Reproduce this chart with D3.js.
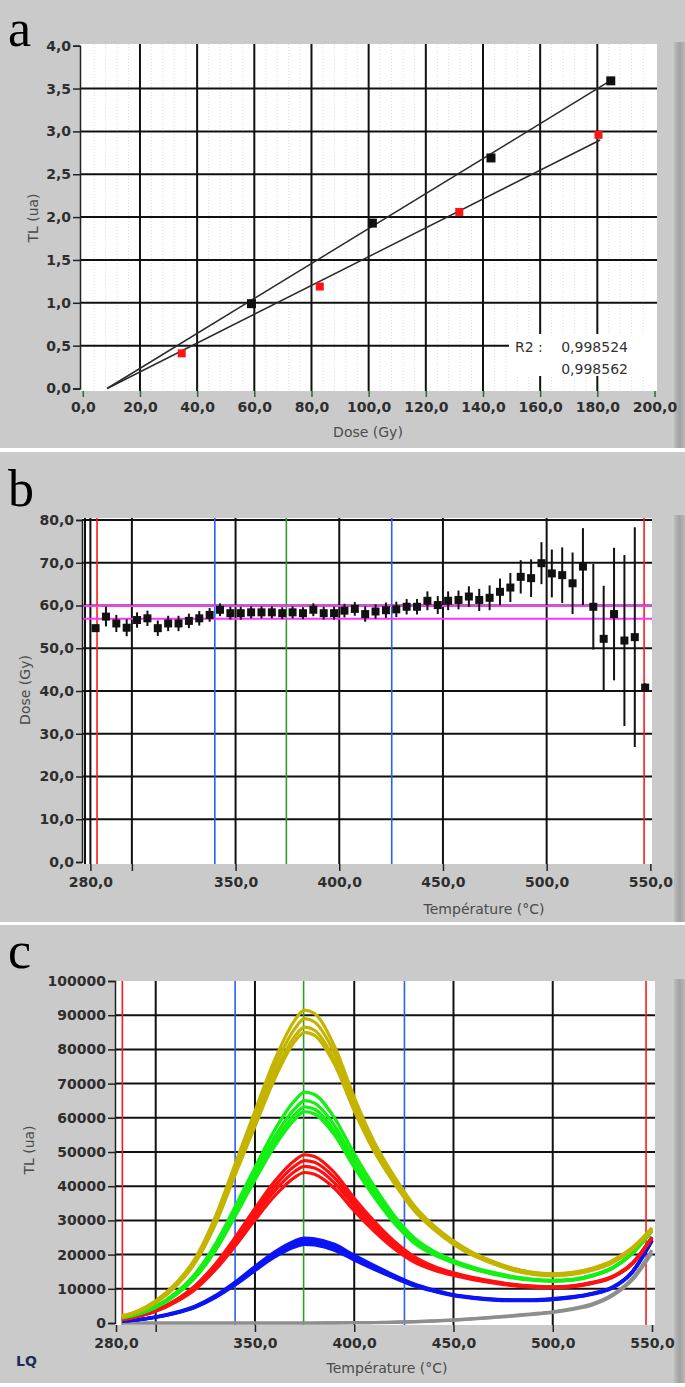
<!DOCTYPE html>
<html>
<head>
<meta charset="utf-8">
<script src="https://cdn.jsdelivr.net/npm/d3@7"></script>
<style>
  body { margin: 0; background: #fff; }
  .tick text { font-family: "DejaVu Sans", sans-serif; font-weight: bold; font-size: 14px; fill: #2e2e2e; }
  .ttl { font-family: "DejaVu Sans", sans-serif; font-size: 14px; fill: #4a4a4a; }
  .letter { font-family: "Liberation Serif", serif; font-size: 52px; fill: #000; }
</style>
</head>
<body>
<script>
//////////////////////////////////////////////////////////////////////////////
// data

// panel a : dose response
var aDoseTicks = [0, 20, 40, 60, 80, 100, 120, 140, 160, 180, 200];
var aTLTicks = [0, 0.5, 1, 1.5, 2, 2.5, 3, 3.5, 4];
var blackDose = [59, 101.3, 142.8, 184.7];
var blackTL = [0.99, 1.93, 2.69, 3.59];
var redDose = [34.6, 82.9, 131.7, 180.4];
var redTL = [0.41, 1.19, 2.06, 2.96];
var blackFitDose = [8.5, 185];
var blackFitTL = [0, 3.6];
var redFitDose = [8.5, 181];
var redFitTL = [0, 2.9];
var r2Values = ["0,998524", "0,998562"];

// panel b : plateau
var bTempTicks = [280, 300, 350, 400, 450, 500, 550];
var bDoseTicks = [0, 10, 20, 30, 40, 50, 60, 70, 80];
var bTemp = [282.5, 287.5, 292.5, 297.5, 302.5, 307.5, 312.5, 317.5, 322.5, 327.5,
             332.5, 337.5, 342.5, 347.5, 352.5, 357.5, 362.5, 367.5, 372.5, 377.5,
             382.5, 387.5, 392.5, 397.5, 402.5, 407.5, 412.5, 417.5, 422.5, 427.5,
             432.5, 437.5, 442.5, 447.5, 452.5, 457.5, 462.5, 467.5, 472.5, 477.5,
             482.5, 487.5, 492.5, 497.5, 502.5, 507.5, 512.5, 517.5, 522.5, 527.5,
             532.5, 537.5, 542.5, 547.5];
var bDose = [54.7, 57.4, 55.8, 54.8, 56.6, 57.0, 54.7, 55.8, 55.8, 56.4,
             57.0, 57.8, 59.0, 58.2, 58.2, 58.4, 58.4, 58.4, 58.2, 58.4,
             58.2, 59.0, 58.2, 58.2, 58.8, 59.2, 58.0, 58.6, 58.9, 59.1,
             59.7, 59.7, 61.1, 60.1, 61.1, 61.3, 62.1, 61.3, 61.8, 63.2,
             64.2, 66.7, 66.4, 69.9, 67.5, 67.1, 65.2, 69.1, 59.7, 52.2,
             58.0, 51.8, 52.6, 40.8];
var bErr = [0.8, 2.3, 2.0, 2.0, 1.8, 1.8, 1.8, 1.8, 1.8, 1.7,
            1.7, 1.6, 1.5, 1.5, 1.5, 1.4, 1.4, 1.4, 1.4, 1.4,
            1.4, 1.5, 1.5, 1.5, 1.6, 1.6, 1.8, 1.7, 1.8, 1.8,
            1.8, 1.8, 2.2, 2.1, 2.2, 2.2, 2.4, 2.6, 2.9, 3.1,
            3.4, 3.9, 4.4, 4.9, 5.6, 6.5, 7.2, 9.0, 10.0, 12.4,
            15.5, 20.0, 25.7, 1.0];
var bBand = [56.9, 59.9];

// cursors shared by b and c
var redCursors = [283.2, 547];
var blueCursors = [340, 425.3];
var greenCursors = [374.5];

// panel c : glow curves
var cTempTicks = [280, 300, 350, 400, 450, 500, 550];
var cTLTicks = [0, 10000, 20000, 30000, 40000, 50000, 60000, 70000, 80000, 90000, 100000];
var cTemp = [283, 290, 300, 310, 320, 330, 340, 350, 360, 370, 375, 380, 390, 400, 410,
             420, 430, 440, 450, 460, 470, 480, 490, 500, 510, 520, 530, 540, 550];
var grayCurves = [
  [0, 0, 0, 0, 0, 0, 0, 0, 0, 0, 0, 0, 50, 100, 150, 250, 400, 600, 900, 1300, 1700, 2200, 2700, 3300, 4200, 5600, 8300, 13000, 21300],
  [0, 0, 0, 0, 0, 0, 0, 0, 0, 0, 0, 0, 30, 80, 120, 200, 350, 550, 800, 1200, 1600, 2000, 2500, 3100, 4000, 5300, 7900, 12500, 20500]
];
var blueCurves = [
  [550, 900, 1800, 3100, 5000, 8000, 12000, 16500, 20800, 24000, 24800, 24600, 23000, 19800, 16800, 14000, 11500, 9700, 8300, 7500, 7000, 6800, 6800, 7100, 7700, 8700, 10500, 15000, 24300],
  [530, 870, 1750, 3000, 4850, 7800, 11700, 16100, 20300, 23400, 24200, 24000, 22400, 19300, 16400, 13700, 11300, 9500, 8200, 7400, 6900, 6700, 6700, 7000, 7600, 8600, 10400, 14900, 24200],
  [510, 850, 1700, 2900, 4700, 7600, 11400, 15600, 19700, 22700, 23500, 23300, 21800, 18800, 16000, 13400, 11100, 9400, 8100, 7300, 6800, 6600, 6600, 6900, 7500, 8500, 10300, 14800, 24100],
  [500, 830, 1650, 2850, 4600, 7400, 11100, 15300, 19300, 22200, 23000, 22800, 21300, 18400, 15700, 13200, 10900, 9300, 8000, 7200, 6700, 6500, 6500, 6800, 7400, 8400, 10200, 14700, 24000]
];
var redCurves = [
  [1100, 1900, 3700, 6700, 11000, 17200, 25000, 33500, 41500, 47500, 49200, 48700, 44000, 36500, 29800, 24000, 19500, 16600, 14700, 13300, 12200, 11300, 10800, 10600, 10900, 11900, 13600, 17500, 25200],
  [1050, 1850, 3600, 6500, 10700, 16700, 24200, 32400, 40100, 45900, 47500, 47000, 42500, 35300, 28900, 23300, 19000, 16300, 14500, 13100, 12050, 11200, 10700, 10500, 10800, 11800, 13500, 17400, 25100],
  [1000, 1800, 3500, 6300, 10300, 16100, 23400, 31300, 38700, 44300, 45800, 45300, 41000, 34100, 27900, 22600, 18500, 15900, 14200, 12900, 11900, 11050, 10600, 10400, 10700, 11700, 13400, 17300, 25000],
  [950, 1750, 3400, 6100, 9900, 15500, 22500, 30100, 37200, 42600, 44000, 43500, 39400, 32800, 26900, 21800, 17900, 15500, 13900, 12700, 11700, 10900, 10450, 10300, 10600, 11600, 13300, 17200, 24900]
];
var greenCurves = [
  [1600, 2600, 4900, 8800, 14500, 23000, 34000, 45500, 56500, 65000, 67500, 66800, 60000, 49500, 40000, 31500, 25000, 21000, 18300, 16300, 14800, 13600, 12800, 12500, 12800, 14000, 16200, 20500, 27200],
  [1550, 2500, 4750, 8500, 14000, 22200, 32800, 44000, 54500, 62600, 65000, 64300, 57800, 47800, 38700, 30600, 24400, 20600, 18000, 16100, 14600, 13450, 12700, 12400, 12700, 13900, 16100, 20400, 27100],
  [1500, 2450, 4600, 8300, 13600, 21600, 31900, 42800, 53000, 60900, 63200, 62500, 56200, 46500, 37700, 29900, 23900, 20300, 17800, 15900, 14450, 13300, 12600, 12300, 12600, 13800, 16000, 20300, 27000],
  [1450, 2400, 4500, 8100, 13300, 21100, 31200, 41800, 51800, 59500, 61800, 61100, 55000, 45500, 36900, 29300, 23500, 20000, 17600, 15700, 14300, 13200, 12500, 12200, 12500, 13700, 15900, 20200, 26900]
];
var yellowCurves = [
  [2100, 3300, 6500, 11500, 19000, 31000, 46500, 62000, 77000, 88500, 91500, 90500, 81000, 66000, 53000, 43000, 34500, 28500, 24000, 20500, 18000, 16000, 14800, 14400, 14800, 16000, 18200, 22000, 27800],
  [2000, 3200, 6300, 11200, 18600, 30300, 45500, 60500, 75000, 86000, 89000, 88000, 79000, 64500, 52000, 42300, 34000, 28200, 23700, 20300, 17800, 15900, 14700, 14300, 14700, 15900, 18100, 21900, 27700],
  [1900, 3100, 6100, 10900, 18100, 29500, 44300, 58800, 73000, 83800, 86500, 85600, 77000, 63000, 51000, 41600, 33500, 27800, 23400, 20000, 17600, 15700, 14500, 14100, 14500, 15700, 17900, 21700, 27500],
  [1800, 3000, 5900, 10600, 17700, 28800, 43300, 57500, 71500, 82300, 85000, 84100, 75700, 62000, 50200, 41000, 33000, 27400, 23000, 19700, 17300, 15400, 14200, 13800, 14200, 15400, 17600, 21400, 27200]
];

//////////////////////////////////////////////////////////////////////////////
// helpers

var loc = d3.formatLocale({decimal: ",", thousands: "", grouping: [3], currency: ["", ""]});
var f1 = loc.format(".1f");
var fInt = loc.format("d");

var svg = d3.select("body").append("svg")
    .attr("width", 685)
    .attr("height", 1387);

var defs = svg.append("defs");
var grad = defs.append("linearGradient").attr("id", "bar").attr("x1", 0).attr("x2", 1);
grad.append("stop").attr("offset", 0).attr("stop-color", "#bdbdbd");
grad.append("stop").attr("offset", 0.5).attr("stop-color", "#a2a2a2");
grad.append("stop").attr("offset", 1).attr("stop-color", "#b8b8b8");

function panelBack(y0, y1, plotTop, letter, letterY) {
    svg.append("rect").attr("x", 0).attr("y", y0).attr("width", 685).attr("height", y1 - y0)
        .attr("fill", "#cacaca");
    svg.append("rect").attr("x", 674).attr("y", plotTop).attr("width", 11).attr("height", y1 - plotTop)
        .attr("fill", "url(#bar)");
    svg.append("text").attr("class", "letter").attr("x", 8).attr("y", letterY).text(letter);
}

function plotArea(x0, x1, y0, y1) {
    svg.append("rect").attr("x", x0).attr("y", y0).attr("width", x1 - x0).attr("height", y1 - y0)
        .attr("fill", "#fff");
}

function styleAxis(g) {
    g.select(".domain").attr("stroke", "#222").attr("stroke-width", 1.5);
    g.selectAll(".tick line").attr("stroke", "#222").attr("stroke-width", 1.5);
}

function gridX(scale, vals, y0, y1, color, w) {
    svg.append("g").selectAll("line").data(vals).enter().append("line")
        .attr("x1", d => scale(d)).attr("x2", d => scale(d))
        .attr("y1", y0).attr("y2", y1)
        .attr("stroke", color || "#111").attr("stroke-width", w || 2);
}

function gridY(scale, vals, x0, x1, color, w) {
    svg.append("g").selectAll("line").data(vals).enter().append("line")
        .attr("y1", d => scale(d)).attr("y2", d => scale(d))
        .attr("x1", x0).attr("x2", x1)
        .attr("stroke", color || "#111").attr("stroke-width", w || 2);
}

function cursors(scale, y0, y1) {
    gridX(scale, redCursors, y0, y1, "#ff1a1a", 1.6);
    gridX(scale, blueCursors, y0, y1, "#2a5ff0", 1.6);
    gridX(scale, greenCursors, y0, y1, "#2f9a2f", 1.6);
}

//////////////////////////////////////////////////////////////////////////////
// panel a

panelBack(0, 448, 42, "a", 46);
plotArea(80, 657, 44, 391);

var ax = d3.scaleLinear().domain([0, 200]).range([82.8, 654.5]);
var ay = d3.scaleLinear().domain([0, 4]).range([388.5, 45.7]);

// faint minor grid
var aMinor = d3.range(0, 200, 4).filter(d => d % 20 !== 0);
svg.append("g").selectAll("line").data(aMinor).enter().append("line")
    .attr("x1", d => ax(d)).attr("x2", d => ax(d))
    .attr("y1", 44).attr("y2", 391)
    .attr("stroke", "#dcdcdc").attr("stroke-width", 1).attr("stroke-dasharray", "1,2");

gridX(ax, aDoseTicks.slice(1, -1), 44, 391);
gridY(ay, aTLTicks.slice(1, -1), 80, 657);

// R2 label box
svg.append("rect").attr("x", 509).attr("y", 334).attr("width", 148).attr("height", 42).attr("fill", "#fff");
svg.append("text").attr("class", "ttl").attr("x", 515).attr("y", 352).style("fill", "#333").text("R2 :");
svg.selectAll(".r2").data(r2Values).enter().append("text")
    .attr("class", "ttl r2").attr("x", 628).attr("y", (d, i) => 352 + i * 22)
    .attr("text-anchor", "end").style("fill", "#333").text(d => d);

var fitLine = d3.line().x(d => ax(d[0])).y(d => ay(d[1]));
[[blackFitDose, blackFitTL], [redFitDose, redFitTL]].forEach(function(f) {
    svg.append("path").datum(d3.zip(f[0], f[1]))
        .attr("d", fitLine).attr("fill", "none")
        .attr("stroke", "#2a2a2a").attr("stroke-width", 1.5);
});

svg.append("g").selectAll("rect").data(d3.zip(blackDose, blackTL)).enter().append("rect")
    .attr("x", d => ax(d[0]) - 4.5).attr("y", d => ay(d[1]) - 4.5)
    .attr("width", 9).attr("height", 9).attr("fill", "#111");
svg.append("g").selectAll("rect").data(d3.zip(redDose, redTL)).enter().append("rect")
    .attr("x", d => ax(d[0]) - 4).attr("y", d => ay(d[1]) - 4)
    .attr("width", 8).attr("height", 8).attr("fill", "#ff1414");

svg.append("g").attr("transform", "translate(80,0)")
    .call(d3.axisLeft(ay).tickValues(aTLTicks).tickFormat(f1).tickSize(7).tickPadding(2))
    .call(styleAxis);
svg.append("g").attr("transform", "translate(0,391)")
    .call(d3.axisBottom(ax).tickValues(aDoseTicks).tickFormat(f1).tickSize(6).tickPadding(5))
    .call(styleAxis)
    .call(g => g.selectAll(".tick line").attr("stroke", "#2d6b2d"))
    .call(g => g.select(".domain").remove());

svg.append("text").attr("class", "ttl").attr("transform", "translate(38,218) rotate(-90)")
    .attr("text-anchor", "middle").text("TL (ua)");
svg.append("text").attr("class", "ttl").attr("x", 368).attr("y", 437)
    .attr("text-anchor", "middle").text("Dose (Gy)");

//////////////////////////////////////////////////////////////////////////////
// panel b

panelBack(452, 922, 515, "b", 506);
plotArea(82, 652, 518, 864);

var bx = d3.scaleLinear().domain([277.4, 550.8]).range([85, 652]);
var by = d3.scaleLinear().domain([0, 80]).range([862, 520]);

gridX(bx, bTempTicks.slice(0, -1), 518, 864);
gridY(by, bDoseTicks.slice(1), 82, 652);
svg.append("line").attr("x1", 85).attr("x2", 85).attr("y1", 518).attr("y2", 864)
    .attr("stroke", "#111").attr("stroke-width", 2);
cursors(bx, 518, 864);

gridY(by, bBand, 82, 652, "#ff33ff");

var bPts = d3.zip(bTemp, bDose, bErr);
svg.append("g").selectAll("line").data(bPts).enter().append("line")
    .attr("x1", d => bx(d[0])).attr("x2", d => bx(d[0]))
    .attr("y1", d => by(d[1] - d[2])).attr("y2", d => by(d[1] + d[2]))
    .attr("stroke", "#111").attr("stroke-width", 2);
svg.append("g").selectAll("rect").data(bPts).enter().append("rect")
    .attr("x", d => bx(d[0]) - 4).attr("y", d => by(d[1]) - 4)
    .attr("width", 8).attr("height", 8).attr("fill", "#111");

svg.append("g").attr("transform", "translate(82,0)")
    .call(d3.axisLeft(by).tickValues(bDoseTicks).tickFormat(f1).tickSize(6).tickPadding(2))
    .call(styleAxis);
svg.append("g").attr("transform", "translate(0,864)")
    .call(d3.axisBottom(bx).tickValues(bTempTicks).tickFormat(d => d === 300 ? "" : f1(d)).tickSize(7).tickPadding(6))
    .call(styleAxis)
    .call(g => g.select(".domain").remove());

svg.append("text").attr("class", "ttl").attr("transform", "translate(30,690) rotate(-90)")
    .attr("text-anchor", "middle").text("Dose (Gy)");
svg.append("text").attr("class", "ttl").attr("x", 484).attr("y", 914)
    .attr("text-anchor", "middle").text("Température (°C)");

//////////////////////////////////////////////////////////////////////////////
// panel c

panelBack(925, 1383, 979, "c", 968);
plotArea(115, 655, 981, 1325);

var cx = d3.scaleLinear().domain([280, 550]).range([116, 652]);
var cy = d3.scaleLinear().domain([0, 100000]).range([1323, 981]);

gridX(cx, cTempTicks.slice(1, -1), 981, 1325);
gridY(cy, cTLTicks.slice(1, -1), 115, 655);
cursors(cx, 981, 1325);

var glow = d3.line().curve(d3.curveMonotoneX)
    .x((d, i) => cx(cTemp[i])).y(d => cy(d));
[[grayCurves, "#8e8e8e"], [blueCurves, "#0a14f5"], [redCurves, "#ff1010"],
 [greenCurves, "#14f014"], [yellowCurves, "#c4b400"]].forEach(function(s) {
    svg.append("g").selectAll("path").data(s[0]).enter().append("path")
        .attr("d", glow).attr("fill", "none")
        .attr("stroke", s[1]).attr("stroke-width", 3.2);
});

svg.append("g").attr("transform", "translate(115,0)")
    .call(d3.axisLeft(cy).tickValues(cTLTicks).tickFormat(fInt).tickSize(7).tickPadding(2))
    .call(styleAxis);
svg.append("g").attr("transform", "translate(0,1325)")
    .call(d3.axisBottom(cx).tickValues(cTempTicks).tickFormat(d => d === 300 ? "" : f1(d)).tickSize(7).tickPadding(6))
    .call(styleAxis)
    .call(g => g.select(".domain").remove());

svg.append("text").attr("class", "ttl").attr("transform", "translate(34,1150) rotate(-90)")
    .attr("text-anchor", "middle").text("TL (ua)");
svg.append("text").attr("class", "ttl").attr("x", 387).attr("y", 1373)
    .attr("text-anchor", "middle").text("Température (°C)");
svg.append("text").attr("class", "ttl").attr("x", 16).attr("y", 1366)
    .style("font-weight", "bold").style("fill", "#1d2c5c").text("LQ");
</script>
</body>
</html>
